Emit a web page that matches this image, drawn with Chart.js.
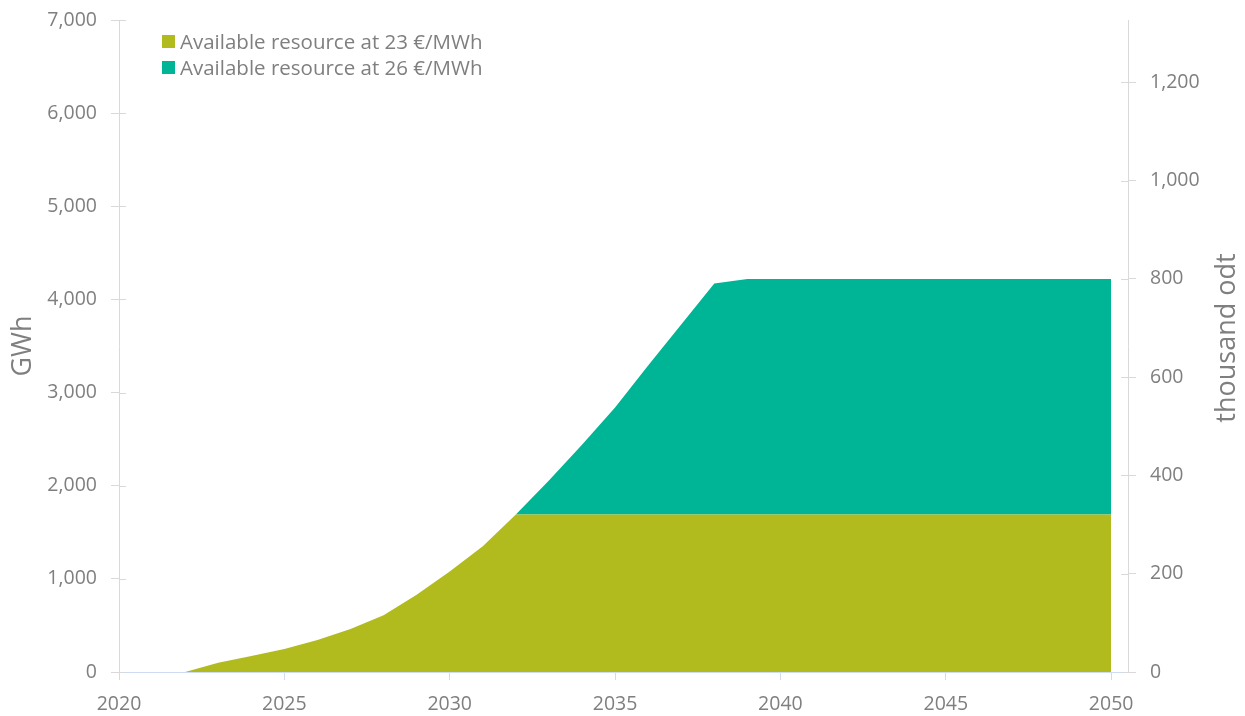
<!DOCTYPE html>
<html lang="en">
<head>
<meta charset="utf-8">
<title>Available resource</title>
<script src="https://cdn.jsdelivr.net/npm/chart.js"></script>
<style>
  html, body { margin: 0; padding: 0; background: #fff; }
  #wrap { position: relative; width: 1245px; height: 716px; }
  #legend { position: absolute; left: 162px; top: 28px; font: 20.5px 'Open Sans', sans-serif; color: #7f7f7f; }
  #legend .item { display: flex; align-items: center; height: 26px; white-space: nowrap; }
  #legend .swatch { width: 13px; height: 13px; margin-right: 5px; }
</style>
</head>
<body>
<div id="wrap">
  <canvas id="chart" width="1245" height="716"></canvas>
  <div id="legend"></div>
</div>
<script>
// Years on the x axis
const years = [2020, 2021, 2022, 2023, 2024, 2025, 2026, 2027, 2028, 2029,
               2030, 2031, 2032, 2033, 2034, 2035, 2036, 2037, 2038, 2039,
               2040, 2041, 2042, 2043, 2044, 2045, 2046, 2047, 2048, 2049, 2050];

// GWh available at 23 €/MWh
const at23 = [0, 0, 0, 100, 172, 247, 344, 462, 610, 830,
              1080, 1350, 1690, 1690, 1690, 1690, 1690, 1690, 1690, 1690,
              1690, 1690, 1690, 1690, 1690, 1690, 1690, 1690, 1690, 1690, 1690];

// extra GWh available at 26 €/MWh (stacked on top)
const at26 = [0, 0, 0, 0, 0, 0, 0, 0, 0, 0,
              0, 0, 0, 365, 750, 1150, 1600, 2040, 2480, 2530,
              2530, 2530, 2530, 2530, 2530, 2530, 2530, 2530, 2530, 2530, 2530];

const seriesNames = ['Available resource at 23 €/MWh', 'Available resource at 26 €/MWh'];

// tick labels
const yearTicks = [2020, 2025, 2030, 2035, 2040, 2045, 2050];
const gwhTicks = [0, 1000, 2000, 3000, 4000, 5000, 6000, 7000];
const odtTicks = [0, 200, 400, 600, 800, 1000, 1200];

const olive = '#b2bb1e';
const teal = '#00b496';
const textGrey = '#7f7f7f';
const axisGrey = '#d9d9d9';
const axisBlue = '#cddbf3';
const font = "'Open Sans', sans-serif";
const tickSize = 19.5;
const titleSize = 27;

const fmt = (v) => Number(v).toLocaleString('en-US');

// fixed axis widths, and no extra room reserved for the end labels
const fixWidth = (w) => (s) => { s.width = w; s.paddingTop = 0; s.paddingBottom = 0; };

// tick stubs on the inner side of both value axes + right-hand title
const axisExtras = {
  id: 'axisExtras',
  afterDraw(chart) {
    const { ctx, chartArea, scales } = chart;
    ctx.save();
    ctx.strokeStyle = axisGrey;
    ctx.lineWidth = 1;
    [['gwh', chartArea.left, 1], ['odt', chartArea.right, -1]].forEach(([id, x0, dir]) => {
      scales[id].ticks.forEach((t) => {
        const y = Math.round(scales[id].getPixelForValue(t.value)) + 0.5;
        ctx.beginPath();
        ctx.moveTo(x0, y);
        ctx.lineTo(x0 + dir * 7, y);
        ctx.stroke();
      });
    });
    ctx.translate(scales.odt.left + 99, (chartArea.top + chartArea.bottom) / 2 - 8);
    ctx.rotate(-Math.PI / 2);
    ctx.fillStyle = textGrey;
    ctx.font = titleSize + 'px ' + font;
    ctx.textAlign = 'center';
    ctx.textBaseline = 'middle';
    ctx.fillText('thousand odt', 0, 0);
    ctx.restore();
  }
};

const ctx = document.getElementById('chart').getContext('2d');
const chart = new Chart(ctx, {
  type: 'line',
  data: {
    labels: years,
    datasets: [
      { label: seriesNames[0], data: at23, yAxisID: 'gwh', backgroundColor: olive, borderColor: olive,
        borderWidth: 0, pointRadius: 0, fill: 'origin', tension: 0 },
      { label: seriesNames[1], data: at26, yAxisID: 'gwh', backgroundColor: teal, borderColor: teal,
        borderWidth: 0, pointRadius: 0, fill: '-1', tension: 0 }
    ]
  },
  options: {
    responsive: false,
    animation: false,
    devicePixelRatio: 1,
    layout: { autoPadding: false, padding: { top: 20, left: 0, right: 0, bottom: 0 } },
    plugins: { legend: { display: false }, tooltip: { enabled: false } },
    scales: {
      x: {
        type: 'linear',
        min: 2020,
        max: 2050.51,
        afterBuildTicks: (s) => { s.ticks = yearTicks.map((v) => ({ value: v })); },
        afterFit: (s) => { s.height = 44; },
        grid: { drawOnChartArea: false, color: axisBlue, tickLength: 8 },
        border: { color: axisBlue },
        ticks: { color: textGrey, font: { family: font, size: tickSize }, padding: 13, maxRotation: 0,
                 callback: (v) => String(v) }
      },
      gwh: {
        type: 'linear',
        position: 'left',
        stacked: true,
        min: 0,
        max: 7000,
        afterBuildTicks: (s) => { s.ticks = gwhTicks.map((v) => ({ value: v })); },
        afterFit: fixWidth(119),
        grid: { drawOnChartArea: false, color: axisGrey, tickLength: 8 },
        border: { color: axisGrey },
        ticks: { color: textGrey, font: { family: font, size: tickSize }, padding: 14, callback: fmt },
        title: { display: true, text: 'GWh', color: textGrey, font: { family: font, size: titleSize },
                 padding: { top: 7, bottom: 0 } }
      },
      odt: {
        type: 'linear',
        position: 'right',
        min: 0,
        max: 1327,
        afterBuildTicks: (s) => { s.ticks = odtTicks.map((v) => ({ value: v })); },
        afterFit: fixWidth(117),
        grid: { drawOnChartArea: false, color: axisGrey, tickLength: 8 },
        border: { color: axisGrey },
        ticks: { color: textGrey, font: { family: font, size: tickSize }, padding: 14, callback: fmt }
      }
    }
  },
  plugins: [axisExtras]
});

// legend
const legendEl = document.getElementById('legend');
chart.data.datasets.forEach((ds) => {
  const item = document.createElement('div');
  item.className = 'item';
  const sw = document.createElement('span');
  sw.className = 'swatch';
  sw.style.background = ds.backgroundColor;
  const txt = document.createElement('span');
  txt.textContent = ds.label;
  item.appendChild(sw);
  item.appendChild(txt);
  legendEl.appendChild(item);
});
</script>
</body>
</html>
